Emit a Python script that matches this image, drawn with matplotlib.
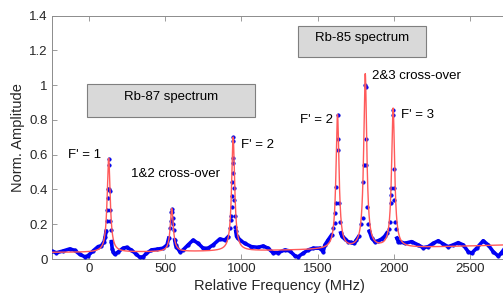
import numpy as np
import matplotlib.pyplot as plt
from matplotlib.patches import Rectangle

plt.rcParams['font.family'] = ['Liberation Sans', 'DejaVu Sans']

freq = [-245, -214, -171, -127, -94, -61, -28, -7, 26, 59, 81,
        99, 106, 112, 117, 121, 124, 126, 129, 131, 133, 135, 137, 140, 143, 147, 152, 158,
        169, 190, 223, 246, 278, 311, 333, 355, 377, 410, 443, 486, 512, 523,
        530, 536, 540, 543, 546, 548, 551, 555, 562, 568,
        574, 596, 617, 650, 683, 716, 749, 781, 814, 858, 891, 913,
        924, 930, 933, 936, 939, 941, 942, 943, 945, 946, 948, 950, 952, 955, 959, 963, 968,
        975, 990, 1022, 1066, 1110, 1143, 1175, 1208, 1241, 1285, 1318, 1351, 1372,
        1405, 1438, 1471, 1515, 1537, 1548, 1569, 1592,
        1604, 1612, 1616, 1620, 1624, 1631, 1633, 1635, 1641, 1646, 1652, 1660,
        1664, 1680, 1700, 1720, 1740, 1755, 1770,
        1782, 1795, 1800, 1807, 1813, 1815, 1817, 1819, 1826, 1832,
        1840, 1855, 1875, 1898, 1920, 1940, 1955,
        1966, 1976, 1979, 1983, 1985, 1996, 1998, 2001, 2002, 2005, 2009, 2012,
        2020, 2030, 2040, 2073, 2117, 2160, 2193, 2226, 2259, 2292, 2325, 2357,
        2390, 2423, 2456, 2489, 2511, 2544, 2587, 2620, 2653, 2686, 2704, 2730]
amp = [0.046, 0.036, 0.046, 0.058, 0.050, 0.027, 0.013, 0.019, 0.046, 0.071, 0.077,
       0.10, 0.128, 0.16, 0.22, 0.28, 0.35, 0.40, 0.576, 0.54, 0.40, 0.39, 0.28, 0.22, 0.167, 0.10, 0.06, 0.042,
       0.027, 0.040, 0.062, 0.067, 0.052, 0.027, 0.010, 0.013, 0.033, 0.052, 0.056, 0.062, 0.081, 0.12,
       0.177, 0.22, 0.27, 0.29, 0.27, 0.235, 0.20, 0.167, 0.11, 0.08,
       0.071, 0.042, 0.052, 0.081, 0.109, 0.090, 0.062, 0.062, 0.081, 0.115, 0.109, 0.128,
       0.177, 0.225, 0.25, 0.30, 0.365, 0.44, 0.494, 0.58, 0.676, 0.70, 0.55, 0.41, 0.34, 0.25, 0.186, 0.16, 0.13,
       0.12, 0.109, 0.090, 0.071, 0.067, 0.075, 0.062, 0.036, 0.036, 0.052, 0.046, 0.019, 0.013,
       0.033, 0.052, 0.062, 0.062, 0.042, 0.081, 0.109, 0.138,
       0.177, 0.206, 0.267, 0.32, 0.416, 0.83, 0.69, 0.628, 0.32, 0.21, 0.15, 0.13,
       0.128, 0.115, 0.10, 0.095, 0.09, 0.11, 0.13,
       0.20, 0.236, 0.44, 0.54, 1.0, 0.99, 0.69, 0.54, 0.30, 0.20,
       0.16, 0.12, 0.10, 0.105, 0.115, 0.13, 0.15,
       0.17, 0.21, 0.32, 0.37, 0.41, 0.858, 0.83, 0.52, 0.41, 0.34, 0.21, 0.17,
       0.12, 0.10, 0.10, 0.090, 0.10, 0.081, 0.065, 0.071, 0.090, 0.105, 0.086, 0.071,
       0.081, 0.094, 0.081, 0.042, 0.033, 0.062, 0.105, 0.081, 0.042, 0.017, 0.033, 0.063]

# Lorentzian fit (red line): peak centres, heights, half widths, baseline polynomial
fit_centers = [129, 543, 946, 1631, 1813, 1996]
fit_heights = [0.54, 0.248, 0.655, 0.77, 1.0, 0.80]
fit_hwhm = [12, 12, 12, 12, 12, 12]
fit_baseline = [0.0385, 2.99e-6, 4.55e-9]

# Annotations
label_text = ["F' = 1", "1&2 cross-over", "F' = 2", "F' = 2", "2&3 cross-over", "F' = 3"]
label_x = [-137, 274, 996, 1384, 1855, 2047]
label_y = [0.58, 0.474, 0.64, 0.78, 1.037, 0.81]

fig = plt.figure(figsize=(5.03, 2.99), dpi=100)
ax = fig.add_axes([51.7 / 503, 1 - 259 / 299, (508 - 51.7) / 503, (259 - 15.5) / 299])

# courbe du fit
f = np.linspace(-245, 2750, 6000)
fit = fit_baseline[0] + fit_baseline[1] * f + fit_baseline[2] * f ** 2
for c, h, g in zip(fit_centers, fit_heights, fit_hwhm):
    fit = fit + h * g ** 2 / ((f - c) ** 2 + g ** 2)

x = np.array(freq, dtype=float)
y = np.array(amp, dtype=float)
y_line = np.ma.masked_where(y > 0.16, y)

ax.plot(x, y_line, '-', color='#0000ff', lw=2.6, zorder=2)
ax.plot(x, y, 'o', color='#0000ff', ms=2.6, mec='#0000c0', mew=0.3, zorder=3)
ax.plot(f, fit, '-', color='#ff5a5a', lw=1.0, zorder=4)

ax.set_xlim(-245, 2750)
ax.set_ylim(0, 1.4)
ax.set_xticks([0, 500, 1000, 1500, 2000, 2500])
ax.set_yticks([0, 0.2, 0.4, 0.6, 0.8, 1.0, 1.2, 1.4])
ax.set_yticklabels(['0', '0.2', '0.4', '0.6', '0.8', '1', '1.2', '1.4'])
ax.tick_params(direction='in', length=3.5, width=0.6, color='#8c8c8c',
               labelcolor='#262626', labelsize=9.5, top=True, right=False, pad=3)
for s in ax.spines.values():
    s.set_color('#8c8c8c')
    s.set_linewidth(0.7)

ax.set_xlabel('Relative Frequency (MHz)', fontsize=10.5, color='#262626', labelpad=3)
ax.set_ylabel('Norm. Amplitude', fontsize=10.5, color='#262626', labelpad=3)

for t, tx, ty in zip(label_text, label_x, label_y):
    ax.text(tx, ty, t, fontsize=9.5, color='black', ha='left', va='baseline')

# boîtes des spectres
ax.add_patch(Rectangle((-15, 0.818), 1103, 0.19, facecolor='#d9d9d9',
                       edgecolor='#7f7f7f', lw=0.8, zorder=5))
ax.text(541, 0.916, 'Rb-87 spectrum', fontsize=9.5, ha='center', va='baseline', zorder=6)
ax.add_patch(Rectangle((1370, 1.164), 841, 0.178, facecolor='#d9d9d9',
                       edgecolor='#7f7f7f', lw=0.8, zorder=5))
ax.text(1791, 1.256, 'Rb-85 spectrum', fontsize=9.5, ha='center', va='baseline', zorder=6)

plt.savefig('out.png', dpi=100)
